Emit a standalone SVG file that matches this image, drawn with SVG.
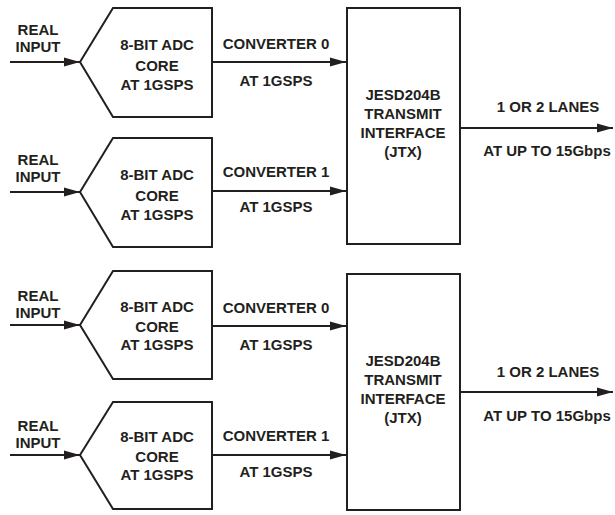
<svg xmlns="http://www.w3.org/2000/svg" width="615" height="515" viewBox="0 0 615 515">
<style>
text{font-family:"Liberation Sans",Arial,sans-serif;font-weight:bold;font-size:15px;fill:#231f20;text-anchor:middle}
.blk{fill:#fff;stroke:#231f20;stroke-width:2}
.ln{stroke:#231f20;stroke-width:1.8;fill:none;marker-end:url(#ah)}
</style>
<defs>
<marker id="ah" markerUnits="userSpaceOnUse" markerWidth="16" markerHeight="10" refX="16" refY="5" orient="auto">
<path d="M0,0.5 L16,5 L0,9.5 Z" fill="#231f20"/>
</marker>
</defs>
<g id="connectors">
<line class="ln" x1="10" y1="62" x2="80" y2="62"/>
<line class="ln" x1="10" y1="192" x2="80" y2="192"/>
<line class="ln" x1="10" y1="325" x2="80" y2="325"/>
<line class="ln" x1="10" y1="455" x2="80" y2="455"/>
<line class="ln" x1="212" y1="62" x2="346" y2="62"/>
<line class="ln" x1="212" y1="191" x2="346" y2="191"/>
<line class="ln" x1="212" y1="326" x2="346" y2="326"/>
<line class="ln" x1="212" y1="455" x2="346" y2="455"/>
<line class="ln" x1="460" y1="128" x2="613" y2="128"/>
<line class="ln" x1="460" y1="392" x2="613" y2="392"/>
</g>
<g id="labels">
<text x="38" y="35">REAL</text><text x="38" y="52">INPUT</text>
<text x="38" y="165">REAL</text><text x="38" y="182">INPUT</text>
<text x="38" y="301">REAL</text><text x="38" y="318">INPUT</text>
<text x="38" y="431">REAL</text><text x="38" y="448">INPUT</text>
<text x="276" y="49">CONVERTER 0</text><text x="276" y="86">AT 1GSPS</text>
<text x="276" y="177">CONVERTER 1</text><text x="276" y="212">AT 1GSPS</text>
<text x="276" y="313">CONVERTER 0</text><text x="276" y="350">AT 1GSPS</text>
<text x="276" y="441">CONVERTER 1</text><text x="276" y="477">AT 1GSPS</text>
<text x="548" y="112">1 OR 2 LANES</text><text x="547" y="156">AT UP TO 15Gbps</text>
<text x="548" y="377">1 OR 2 LANES</text><text x="547" y="421">AT UP TO 15Gbps</text>
</g>
<g id="adc1">
<polygon class="blk" points="80,62 113,8 212,8 212,117 113,117"/>
<text x="157" y="50">8-BIT ADC</text><text x="157" y="71">CORE</text><text x="157" y="90">AT 1GSPS</text>
</g>
<g id="adc2">
<polygon class="blk" points="80,192 113,138 212,138 212,247 113,247"/>
<text x="157" y="180">8-BIT ADC</text><text x="157" y="201">CORE</text><text x="157" y="220">AT 1GSPS</text>
</g>
<g id="jtx1">
<rect class="blk" x="347" y="8" width="113" height="236"/>
<text x="403" y="100">JESD204B</text><text x="403" y="119">TRANSMIT</text><text x="403" y="138">INTERFACE</text><text x="403" y="157">(JTX)</text>
</g>
<g id="adc3">
<polygon class="blk" points="80,325 113,271 212,271 212,379 113,379"/>
<text x="157" y="312">8-BIT ADC</text><text x="157" y="332">CORE</text><text x="157" y="350">AT 1GSPS</text>
</g>
<g id="adc4">
<polygon class="blk" points="80,455 113,402 212,402 212,509 113,509"/>
<text x="157" y="442">8-BIT ADC</text><text x="157" y="462">CORE</text><text x="157" y="480">AT 1GSPS</text>
</g>
<g id="jtx2">
<rect class="blk" x="347" y="274" width="113" height="236"/>
<text x="403" y="366">JESD204B</text><text x="403" y="385">TRANSMIT</text><text x="403" y="404">INTERFACE</text><text x="403" y="423">(JTX)</text>
</g>
</svg>
